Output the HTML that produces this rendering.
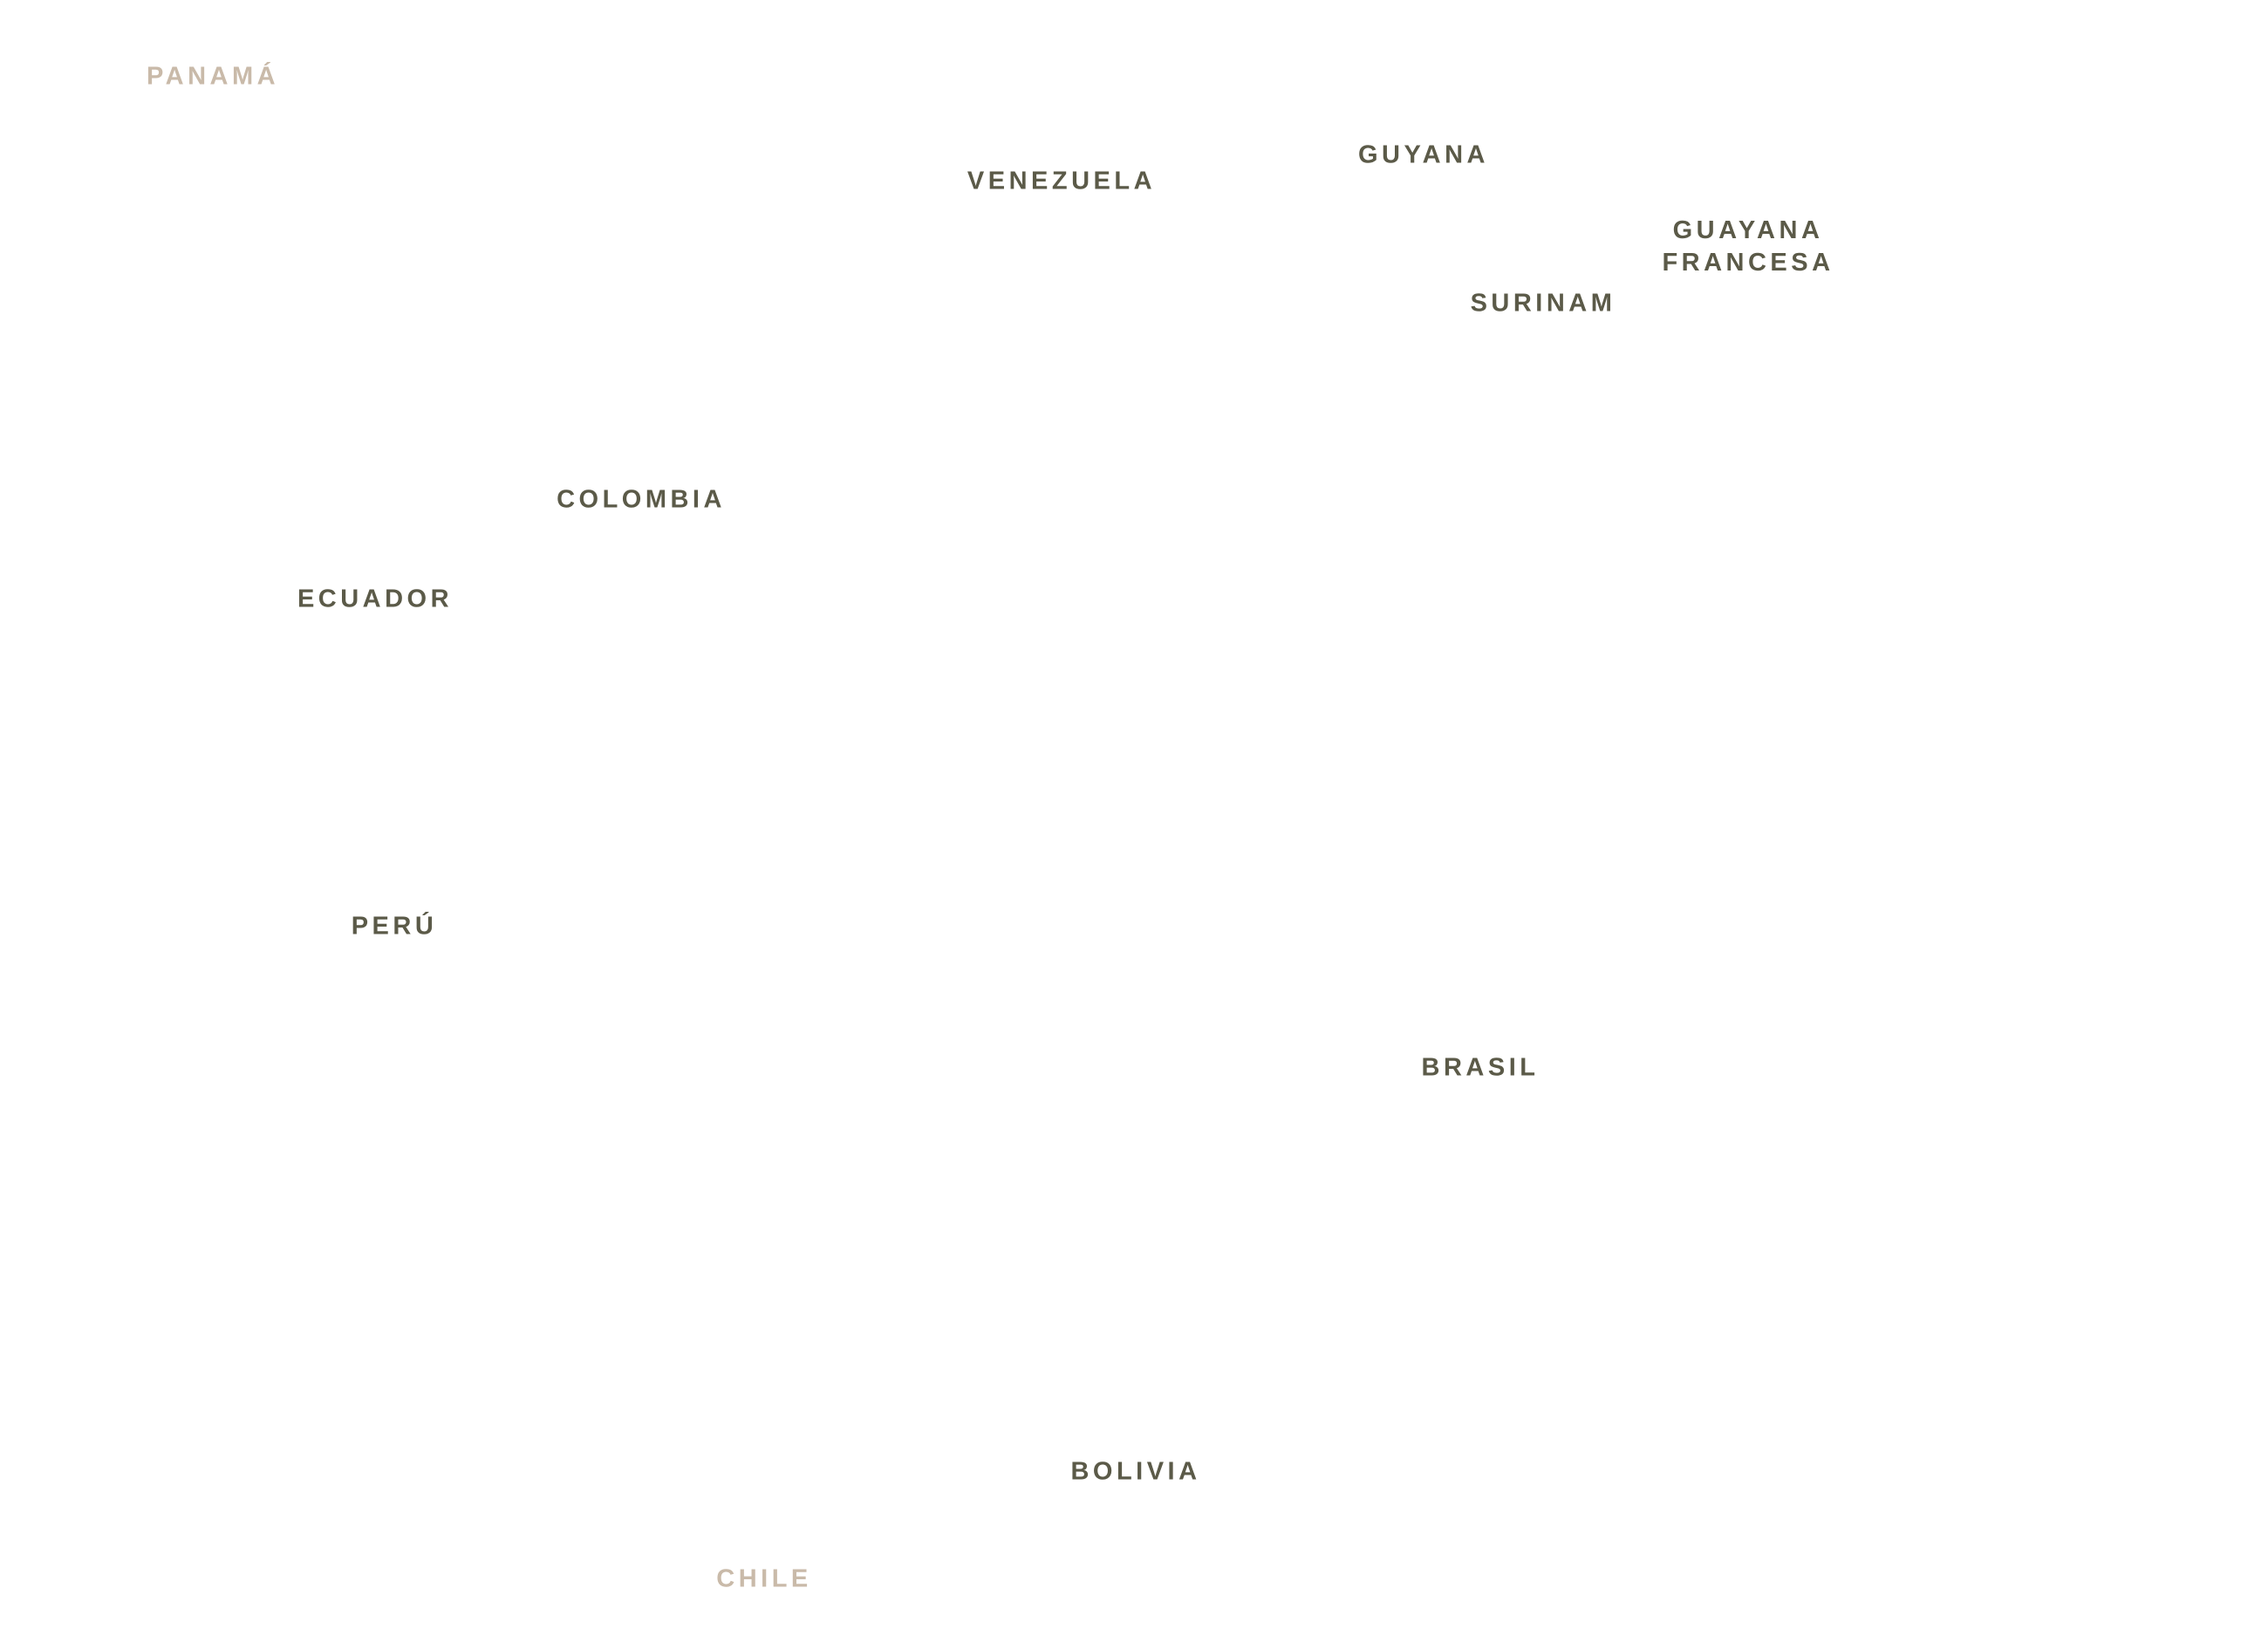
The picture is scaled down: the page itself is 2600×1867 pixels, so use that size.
<!DOCTYPE html>
<html><head><meta charset="utf-8"><style>
html,body{margin:0;padding:0;background:#fff;}
body{width:2600px;height:1867px;position:relative;overflow:hidden;font-family:"Liberation Sans",sans-serif;}
.l{position:absolute;transform:translate(-50%,-50%);font-weight:bold;font-size:29px;letter-spacing:4.5px;color:#5b5a48;white-space:nowrap;text-align:center;line-height:37px;}
.g{color:#c9baa9;}
</style></head><body>
<div class="l g" style="left:244px;top:88px">PANAMÁ</div>
<div class="l" style="left:1217px;top:208px">VENEZUELA</div>
<div class="l" style="left:1632px;top:178px">GUYANA</div>
<div class="l" style="left:2004px;top:283px">GUAYANA<br>FRANCESA</div>
<div class="l" style="left:1769px;top:348px">SURINAM</div>
<div class="l" style="left:735px;top:573px">COLOMBIA</div>
<div class="l" style="left:430px;top:687px">ECUADOR</div>
<div class="l" style="left:452px;top:1062px">PERÚ</div>
<div class="l" style="left:1697px;top:1224px">BRASIL</div>
<div class="l" style="left:1302px;top:1687px">BOLIVIA</div>
<div class="l g" style="left:876px;top:1810px">CHILE</div>
</body></html>
